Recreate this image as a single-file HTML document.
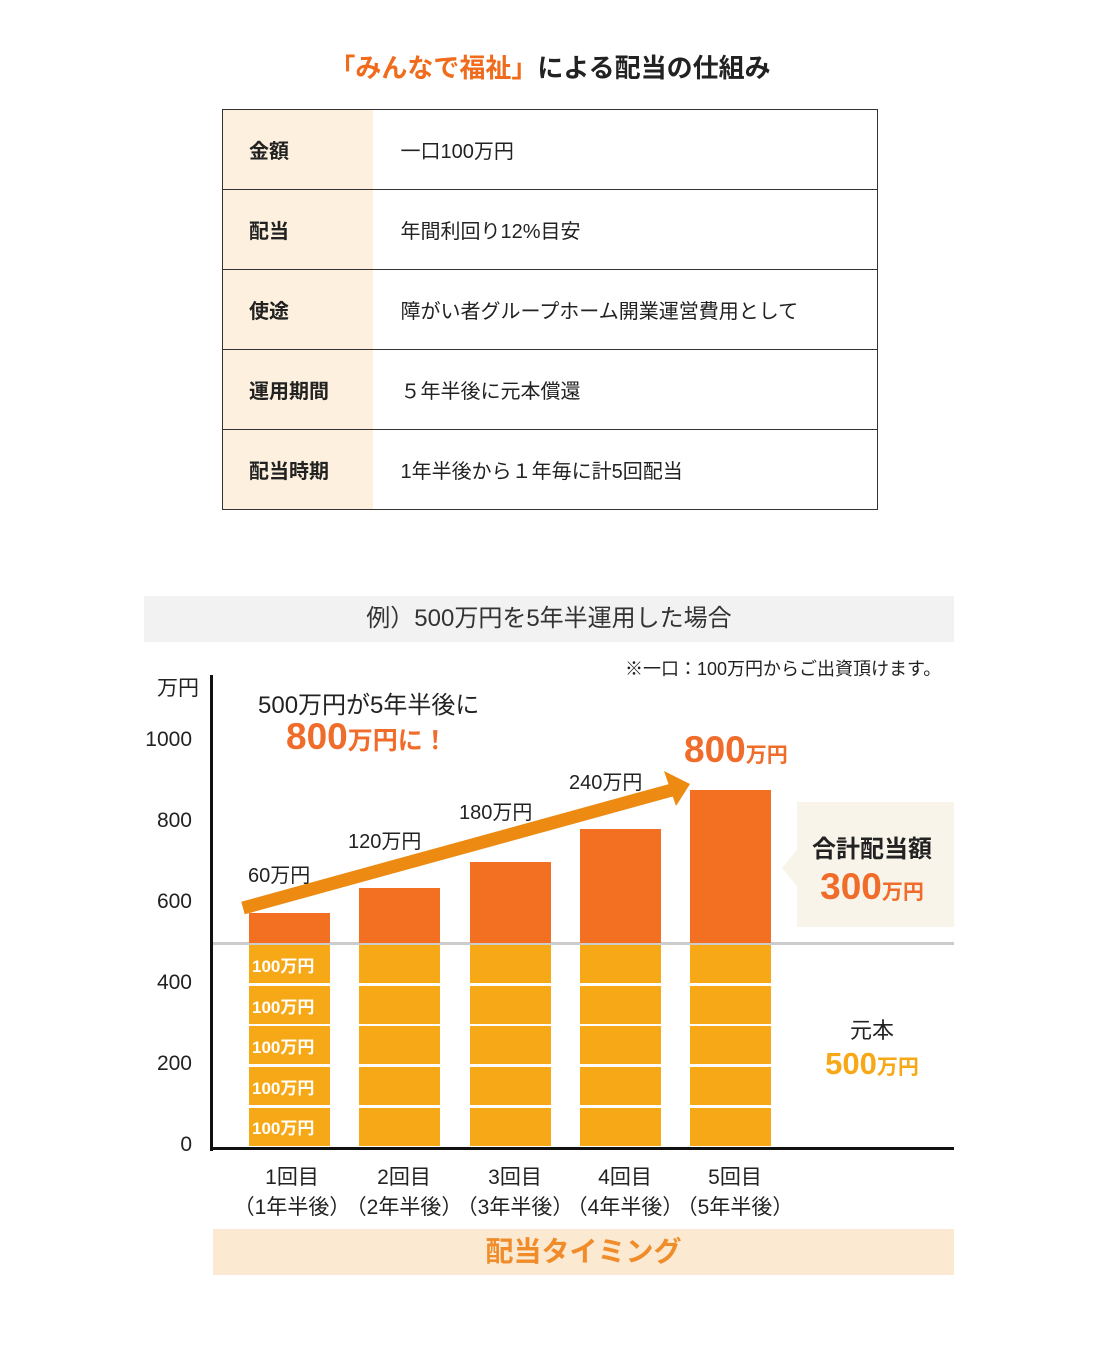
<!DOCTYPE html>
<html><head><meta charset="utf-8"><style>
body{margin:0;width:1100px;height:1353px;background:#fff;position:relative;font-family:"Liberation Sans","Noto Sans CJK JP",sans-serif;color:#222;overflow:hidden}
.a{position:absolute;white-space:nowrap}
table{position:absolute;left:222px;top:109px;width:656px;border-collapse:collapse}
td{border:1px solid #333;height:79px;font-size:20px;padding:0}
td.l{width:150px;background:#fdf0de;font-weight:bold;padding-left:26px;box-sizing:border-box;border-right:none}
td.r{padding-left:28px;border-left:none}
.t{position:absolute;font-size:21px;width:60px;text-align:right;left:132px}
.w{color:#fff;font-size:17px;font-weight:bold}
</style></head><body>
<div class="a" style="left:0;width:1100px;text-align:center;top:48px;font-size:26px;font-weight:bold"><span style="color:#f06c1c">「みんなで福祉」</span>による配当の仕組み</div>
<table>
<tr><td class="l">金額</td><td class="r">一口100万円</td></tr>
<tr><td class="l">配当</td><td class="r">年間利回り12%目安</td></tr>
<tr><td class="l">使途</td><td class="r">障がい者グループホーム開業運営費用として</td></tr>
<tr><td class="l">運用期間</td><td class="r">５年半後に元本償還</td></tr>
<tr><td class="l">配当時期</td><td class="r">1年半後から１年毎に計5回配当</td></tr>
</table>
<div class="a" style="left:144px;top:596px;width:810px;height:46px;background:#f2f2f2;text-align:center;line-height:46px;font-size:24px;color:#333">例）500万円を5年半運用した場合</div>
<div class="a" style="left:625px;top:655px;font-size:18px">※一口：100万円からご出資頂けます。</div>
<div class="a" style="left:157px;top:672px;font-size:21px">万円</div>
<div class="t" style="top:728px">1000</div><div class="t" style="top:809px">800</div><div class="t" style="top:890px">600</div><div class="t" style="top:971px">400</div><div class="t" style="top:1052px">200</div><div class="t" style="top:1133px">0</div>
<svg class="a" style="left:0;top:0" width="1100" height="1353">
<rect x="212" y="942" width="742" height="3" fill="#ccc"/>
<g fill="#f37022">
<rect x="249" y="913" width="81" height="30"/><rect x="359" y="888" width="81" height="55"/><rect x="470" y="862" width="81" height="81"/><rect x="580" y="829" width="81" height="114"/><rect x="690" y="790" width="81" height="153"/>
</g>
<g fill="#f7a816">
<rect x="249" y="945" width="81" height="38"/><rect x="249" y="986" width="81" height="38"/><rect x="249" y="1026" width="81" height="38"/><rect x="249" y="1067" width="81" height="38"/><rect x="249" y="1108" width="81" height="38"/>
<rect x="359" y="945" width="81" height="38"/><rect x="359" y="986" width="81" height="38"/><rect x="359" y="1026" width="81" height="38"/><rect x="359" y="1067" width="81" height="38"/><rect x="359" y="1108" width="81" height="38"/>
<rect x="470" y="945" width="81" height="38"/><rect x="470" y="986" width="81" height="38"/><rect x="470" y="1026" width="81" height="38"/><rect x="470" y="1067" width="81" height="38"/><rect x="470" y="1108" width="81" height="38"/>
<rect x="580" y="945" width="81" height="38"/><rect x="580" y="986" width="81" height="38"/><rect x="580" y="1026" width="81" height="38"/><rect x="580" y="1067" width="81" height="38"/><rect x="580" y="1108" width="81" height="38"/>
<rect x="690" y="945" width="81" height="38"/><rect x="690" y="986" width="81" height="38"/><rect x="690" y="1026" width="81" height="38"/><rect x="690" y="1067" width="81" height="38"/><rect x="690" y="1108" width="81" height="38"/>
</g>
<rect x="210" y="675" width="3" height="476" fill="#111"/>
<rect x="210" y="1147" width="744" height="3" fill="#111"/>
<line x1="243" y1="908" x2="672" y2="790" stroke="#ec8a12" stroke-width="13"/>
<polygon points="690,784 664,771 676,806" fill="#ec8a12"/>
<rect x="797" y="802" width="157" height="125" fill="#f8f4ea"/>
<polygon points="797,850 782,868 797,886" fill="#f8f4ea"/>
</svg>
<div class="a w" style="left:252px;top:952px">100万円</div>
<div class="a w" style="left:252px;top:993px">100万円</div>
<div class="a w" style="left:252px;top:1033px">100万円</div>
<div class="a w" style="left:252px;top:1074px">100万円</div>
<div class="a w" style="left:252px;top:1114px">100万円</div>
<div class="a" style="left:258px;top:685px;font-size:24px">500万円が5年半後に</div>
<div class="a" style="left:286px;top:716px;font-size:37px;font-weight:bold;color:#f06c2a">800<span style="font-size:25px">万円に！</span></div>
<div class="a" style="left:684px;top:729px;font-size:37px;font-weight:bold;color:#f06c2a">800<span style="font-size:21px">万円</span></div>
<div class="a" style="left:248px;top:859px;font-size:20px">60万円</div>
<div class="a" style="left:348px;top:825px;font-size:20px">120万円</div>
<div class="a" style="left:459px;top:796px;font-size:20px">180万円</div>
<div class="a" style="left:569px;top:766px;font-size:20px">240万円</div>
<div class="a" style="left:797px;top:829px;width:150px;text-align:center;font-size:24px;font-weight:bold">合計配当額</div>
<div class="a" style="left:797px;top:866px;width:150px;text-align:center;font-size:37px;font-weight:bold;color:#f06c2a">300<span style="font-size:21px">万円</span></div>
<div class="a" style="left:797px;top:1013px;width:150px;text-align:center;font-size:22px">元本</div>
<div class="a" style="left:797px;top:1046px;width:150px;text-align:center;font-size:31px;font-weight:bold;color:#f7a816">500<span style="font-size:21px">万円</span></div>
<div class="a" style="left:234px;top:1161px;width:560px;font-size:21px">
<div class="a" style="left:-4px;width:124px;text-align:center">1回目<br>（1年半後）</div>
<div class="a" style="left:108px;width:124px;text-align:center">2回目<br>（2年半後）</div>
<div class="a" style="left:219px;width:124px;text-align:center">3回目<br>（3年半後）</div>
<div class="a" style="left:329px;width:124px;text-align:center">4回目<br>（4年半後）</div>
<div class="a" style="left:439px;width:124px;text-align:center">5回目<br>（5年半後）</div>
</div>
<div class="a" style="left:213px;top:1229px;width:741px;height:46px;background:#fbe9d2;text-align:center;line-height:46px;font-size:28px;font-weight:bold;color:#f08c2a">配当タイミング</div>
</body></html>
